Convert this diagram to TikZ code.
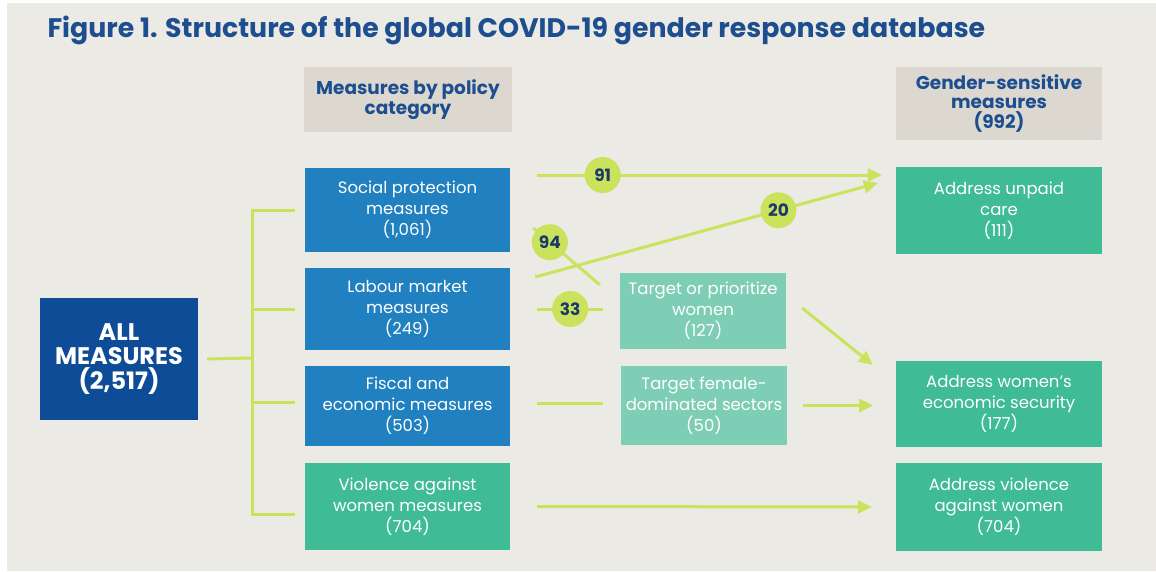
\documentclass[tikz,border=0pt]{standalone}
\usepackage{fontspec}
\setmainfont{Poppins}
\usetikzlibrary{arrows.meta}
\definecolor{paper}{HTML}{ECEAE5}
\definecolor{titleblue}{HTML}{1D4E8F}
\definecolor{headgray}{HTML}{DDD8CF}
\definecolor{allblue}{HTML}{0E4C97}
\definecolor{catblue}{HTML}{2080C0}
\definecolor{gendgreen}{HTML}{3FBB95}
\definecolor{paleteal}{HTML}{7ECDB5}
\definecolor{lime}{HTML}{CBE35C}
\definecolor{navy}{HTML}{1B3A6A}
\tikzset{
  box/.style={rectangle, inner sep=0pt, align=center, text=white, minimum width=205,
    font=\fontsize{16.5}{21}\selectfont},
  catbox/.style={box, fill=catblue},
  gendbox/.style={box, fill=gendgreen},
  midbox/.style={box, fill=paleteal, minimum width=166},
  headbox/.style={box, fill=headgray, text=titleblue, font=\bfseries\fontsize{18.5}{19.5}\selectfont},
  allbox/.style={box, fill=allblue, minimum width=158, minimum height=122,
    font=\bfseries\fontsize{24}{24.5}\selectfont},
  link/.style={lime, line width=3pt},
  flow/.style={link, -{Triangle[length=14pt,width=13pt]}},
  numdot/.style={circle, fill=lime, inner sep=0pt, minimum size=36, text=navy,
    font=\bfseries\fontsize{17}{17}\selectfont}
}
\begin{document}
\begin{tikzpicture}[x=1pt,y=-1pt]
  \useasboundingbox (0,0) rectangle (1156,571);
  \fill[white] (0,0) rectangle (1156,571);
  \fill[paper] (7,3) rectangle (1156,571);

  \node[anchor=west, text=titleblue, font=\bfseries\fontsize{26.8}{26.8}\selectfont] (title) at (44,30)
    {Figure 1. Structure of the global COVID-19 gender response database};

  % headers
  \node[headbox, minimum width=208, minimum height=65] (hdrcat) at (408,99.5) {Measures by policy\\category};
  \node[headbox, minimum width=206, minimum height=73] (hdrgend) at (999,103.5) {Gender-sensitive\\measures\\(992)};

  % boxes
  \node[allbox] (all) at (119,359) {ALL\\MEASURES\\(2,517)};
  \node[catbox, minimum height=84] (social) at (407.5,210) {Social protection\\measures\\(1,061)};
  \node[catbox, minimum height=82] (labour) at (407.5,309) {Labour market\\measures\\(249)};
  \node[catbox, minimum height=80] (fiscal) at (407.5,406) {Fiscal and\\economic measures\\(503)};
  \node[gendbox, minimum height=87] (violence) at (407.5,506.5) {Violence against\\women measures\\(704)};
  \node[midbox, minimum height=76] (targetw) at (703,311) {Target or prioritize\\women\\(127)};
  \node[midbox, minimum height=79] (targetf) at (704,405.5) {Target female-\\dominated sectors\\(50)};
  \node[gendbox, minimum width=206, minimum height=87] (care) at (999,210.5) {Address unpaid\\care\\(111)};
  \node[gendbox, minimum width=206, minimum height=86] (econ) at (999,404) {Address women's\\economic security\\(177)};
  \node[gendbox, minimum width=206, minimum height=88] (vaw) at (999,507) {Address violence\\against women\\(704)};

  % bracket
  \coordinate (trunk) at (252,358);
  \draw[link] ([xshift=9]all.east) -- (trunk);
  \draw[link] (trunk) |- ([xshift=-10]social.west);
  \draw[link] (trunk) |- ([xshift=-10]labour.west);
  \draw[link] (trunk) |- ([xshift=-10,yshift=4]fiscal.west);
  \draw[link] (trunk) |- ([xshift=-10,yshift=-7.5]violence.west);

  % flows
  \draw[flow] ([xshift=27,yshift=35]social.east) -- ([xshift=-14,yshift=35.5]care.west)
    node[numdot, pos=0.19] (n91) {91};
  \draw[link] ([xshift=23,yshift=-18]social.east) -- ([xshift=-20,yshift=-12]targetw.north west)
    node[numdot, pos=0.25] (n94) {94};
  \draw[flow] ([xshift=25,yshift=32]labour.east) -- ([xshift=-18,yshift=27.5]care.west)
    node[numdot, pos=0.71] (n20) {20};
  \draw[link] ([xshift=27]labour.east) -- ++(66,0) node[numdot, midway] (n33) {33};
  \draw[flow] ([xshift=16,yshift=3]targetw.east) -- ([xshift=-23,yshift=39]econ.west);
  \draw[link] ([xshift=27,yshift=3]fiscal.east) -- ++(66,0);
  \draw[flow] ([xshift=16]targetf.east) -- ++(70,0);
  \draw[flow] ([xshift=27]violence.east) -- ([xshift=-24]vaw.west);
\end{tikzpicture}
\end{document}
